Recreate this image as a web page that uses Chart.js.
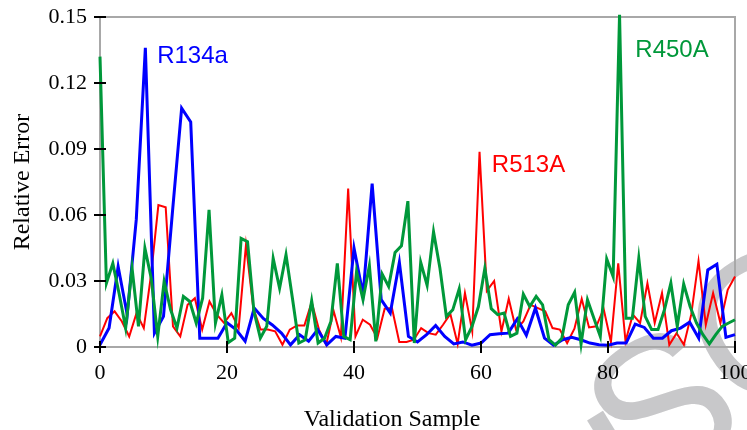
<!DOCTYPE html>
<html>
<head>
<meta charset="utf-8">
<script src="https://cdn.jsdelivr.net/npm/chart.js@4.4.1/dist/chart.umd.min.js"></script>
<style>
  html, body { margin: 0; padding: 0; background: #fff; }
  #wrap { position: relative; width: 747px; height: 430px; }
</style>
</head>
<body>
<div id="wrap"><canvas id="chart"></canvas></div>
<script>
// relative error per validation sample
const r134aErrors = [
  0.001, 0.0086, 0.0366, 0.0147, 0.058, 0.136, 0.0063, 0.0139, 0.062, 0.1086,
  0.1023, 0.004, 0.004, 0.004, 0.011, 0.0079, 0.0026, 0.0177, 0.013, 0.010,
  0.0063, 0.001, 0.0056, 0.0026, 0.0079, 0.001, 0.0048, 0.004, 0.045, 0.0237,
  0.0743, 0.0215, 0.0154, 0.0385, 0.0048, 0.0023, 0.0056, 0.0098, 0.0048, 0.0014,
  0.0023, 0.0008, 0.0018, 0.0056, 0.006, 0.0063, 0.0128, 0.0053, 0.0177, 0.004,
  0.0008, 0.0033, 0.0044, 0.0033, 0.0018, 0.001, 0.0008, 0.0018, 0.0018, 0.0104,
  0.0089, 0.004, 0.004, 0.0074, 0.0086, 0.0113, 0.004, 0.035, 0.0376, 0.0044, 0.0056,
];
const r450aErrors = [
  0.132, 0.029, 0.038, 0.024, 0.0086, 0.0358, 0.0094, 0.0449, 0.031, 0.0048,
  0.0298, 0.017, 0.0086, 0.023, 0.0207, 0.0109, 0.0222, 0.0623, 0.0109, 0.0237,
  0.002, 0.004, 0.0494, 0.0479, 0.0162, 0.004, 0.0094, 0.0403, 0.0267, 0.0419,
  0.0222, 0.0018, 0.0033, 0.021, 0.0018, 0.004, 0.0116, 0.038, 0.0048, 0.0033,
  0.0343, 0.0215, 0.037, 0.0026, 0.0331, 0.0275, 0.043, 0.046, 0.0663, 0.0018,
  0.0385, 0.028, 0.0524, 0.0358, 0.0139, 0.0169, 0.0264, 0.0033, 0.0094, 0.0184,
  0.0358, 0.0174, 0.0147, 0.0154, 0.0048, 0.0063, 0.024, 0.0184, 0.023, 0.0192,
  0.0033, 0.0008, 0.004, 0.0192, 0.0249, 0.0014, 0.0215, 0.0131, 0.0048, 0.040,
  0.032, 0.151, 0.0131, 0.0131, 0.0403, 0.0139, 0.0079, 0.0079, 0.0169, 0.029,
  0.0094, 0.0286, 0.0184, 0.0109, 0.0056, 0.0014, 0.0056, 0.0094, 0.0109, 0.0124,
];
const r513aErrors = [
  0.0048, 0.0131, 0.0162, 0.0116, 0.0048, 0.0154, 0.0086, 0.033, 0.0645, 0.0635,
  0.0094, 0.0048, 0.0192, 0.0222, 0.0079, 0.0207, 0.0147, 0.0109, 0.0154, 0.0086,
  0.0464, 0.0177, 0.0079, 0.0079, 0.0071, 0.001, 0.0079, 0.0098, 0.0098, 0.0204,
  0.0079, 0.001, 0.0165, 0.0044, 0.072, 0.0048, 0.0124, 0.0101, 0.0041, 0.0174,
  0.0177, 0.0023, 0.0023, 0.0033, 0.0086, 0.0063, 0.0056, 0.0101, 0.015, 0.0014,
  0.0245, 0.0071, 0.0887, 0.0255, 0.030, 0.0071, 0.0219, 0.0079, 0.0116, 0.0192,
  0.0177, 0.0162, 0.0086, 0.0079, 0.0018, 0.0083, 0.0219, 0.0089, 0.0094, 0.0174,
  0.0023, 0.038, 0.0026, 0.0147, 0.0109, 0.029, 0.0109, 0.0245, 0.001, 0.0063,
  0.001, 0.0147, 0.0391, 0.0101, 0.0245, 0.0109, 0.026, 0.032,
];
const xTicks = [0, 20, 40, 60, 80, 100];
const yTicks = [0, 0.03, 0.06, 0.09, 0.12, 0.15];

const BLUE = '#0000ff';
const GREEN = '#00983a';
const RED = '#ff0000';

// series names written inside the plot, anchored in data units
const seriesLabels = [
  { text: 'R134a', x: 9, y: 0.129, color: BLUE },
  { text: 'R450A', x: 84.3, y: 0.132, color: GREEN },
  { text: 'R513A', x: 61.7, y: 0.0795, color: RED },
];

function toPoints(values) {
  // each refrigerant has its own sample count, spread over 0-100
  const last = values.length - 1;
  return values.map((v, i) => ({ x: i * 100 / last, y: v }));
}

function stampLetter(ctx, letter, cx, cy, angle) {
  ctx.save();
  ctx.fillStyle = '#c8c8ca';
  ctx.font = '200px "Liberation Sans"';
  ctx.textAlign = 'center';
  ctx.textBaseline = 'middle';
  ctx.translate(cx, cy);
  ctx.rotate(angle);
  ctx.fillText(letter, 0, 0);
  ctx.restore();
}

const frame = {
  id: 'frame',
  beforeDraw(chart) {
    // faint stamp behind the figure
    const ctx = chart.ctx;
    stampLetter(ctx, 'I', 638, 486, -0.55);
    stampLetter(ctx, 'S', 668, 418, -0.55);
    stampLetter(ctx, 'C', 771, 337, -0.55);
  },
  beforeDatasetsDraw(chart) {
    const { ctx, chartArea: a } = chart;
    ctx.save();
    ctx.strokeStyle = '#a8a8a8';
    ctx.lineWidth = 2;
    ctx.strokeRect(a.left, a.top, a.right - a.left, a.bottom - a.top);
    ctx.restore();
  },
  afterDraw(chart) {
    const { ctx, chartArea: a, scales } = chart;
    ctx.save();
    ctx.strokeStyle = '#000';
    ctx.lineWidth = 2;
    ctx.beginPath();
    scales.y.ticks.forEach(t => {
      const y = scales.y.getPixelForValue(t.value);
      ctx.moveTo(a.left - 6, y);
      ctx.lineTo(a.left + 6, y);
    });
    scales.x.ticks.forEach(t => {
      const x = scales.x.getPixelForValue(t.value);
      ctx.moveTo(x, a.bottom - 6);
      ctx.lineTo(x, a.bottom + 6);
    });
    ctx.stroke();

    ctx.font = '24px "Liberation Sans"';
    ctx.textAlign = 'left';
    ctx.textBaseline = 'alphabetic';
    seriesLabels.forEach(l => {
      ctx.fillStyle = l.color;
      ctx.fillText(l.text, scales.x.getPixelForValue(l.x), scales.y.getPixelForValue(l.y));
    });

    ctx.fillStyle = '#000';
    ctx.font = '24px "Liberation Serif"';
    ctx.textAlign = 'center';
    ctx.fillText('Validation Sample', a.left + (a.right - a.left) * 0.46, 426);
    ctx.restore();
  },
};

const ctx = document.getElementById('chart').getContext('2d');
new Chart(ctx, {
  type: 'line',
  data: {
    datasets: [
      { label: 'R450A', data: toPoints(r450aErrors), borderColor: GREEN, borderWidth: 3, clip: false },
      { label: 'R134a', data: toPoints(r134aErrors), borderColor: BLUE, borderWidth: 3, clip: false },
      { label: 'R513A', data: toPoints(r513aErrors), borderColor: RED, borderWidth: 2, clip: false },
    ],
  },
  options: {
    responsive: true,
    maintainAspectRatio: false,
    animation: false,
    layout: { padding: { top: 17, right: 12, left: 0, bottom: 0 } },
    plugins: { legend: { display: false }, tooltip: { enabled: false } },
    elements: { point: { radius: 0 }, line: { tension: 0, fill: false } },
    scales: {
      x: {
        type: 'linear',
        min: 0,
        max: 100,
        grid: { display: false, drawTicks: false },
        border: { display: false },
        afterBuildTicks: s => { s.ticks = xTicks.map(v => ({ value: v })); },
        ticks: { color: '#000', font: { family: 'Liberation Serif', size: 22 }, padding: 13, maxRotation: 0, autoSkip: false },
        afterFit: s => { s.height = 83; s.paddingLeft = 0; s.paddingRight = 0; },
      },
      y: {
        min: 0,
        max: 0.15,
        grid: { display: false, drawTicks: false },
        border: { display: false },
        afterBuildTicks: s => { s.ticks = yTicks.map(v => ({ value: v })); },
        ticks: {
          color: '#000',
          font: { family: 'Liberation Serif', size: 22 },
          padding: 13,
          callback: v => (v === 0 ? '0' : v.toFixed(2)),
        },
        title: { display: true, text: 'Relative Error', color: '#000', font: { family: 'Liberation Serif', size: 24 }, padding: { top: 8, bottom: 0 } },
        afterFit: s => { s.width = 100; s.paddingTop = 0; s.paddingBottom = 0; },
      },
    },
  },
  plugins: [frame],
});
</script>
</body>
</html>
